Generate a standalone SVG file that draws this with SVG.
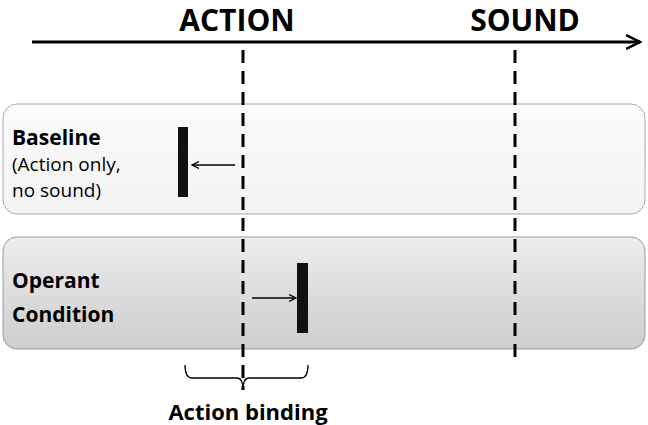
<svg xmlns="http://www.w3.org/2000/svg" width="648" height="425" viewBox="0 0 648 425">
<style>
text{font-family:"Open Sans","Liberation Sans",sans-serif;fill:#000}
.b{font-weight:bold}
.dash{stroke:#000;stroke-width:3;stroke-dasharray:13,8;fill:none}
.thin{stroke:#000;stroke-width:1.3;fill:none}
</style>
<defs>
<linearGradient id="g1" x1="0" y1="0" x2="0" y2="1"><stop offset="0" stop-color="#fbfbfb"/><stop offset="1" stop-color="#f3f3f3"/></linearGradient>
<linearGradient id="g2" x1="0" y1="0" x2="0" y2="1"><stop offset="0" stop-color="#ededed"/><stop offset="1" stop-color="#cdcdcd"/></linearGradient>
<marker id="ah" markerWidth="8" markerHeight="8" refX="7" refY="4" orient="auto" markerUnits="userSpaceOnUse"><path d="M0,0.5 L7,4 L0,7.5" fill="none" stroke="#000" stroke-width="1.2"/></marker>
<marker id="big" markerWidth="16" markerHeight="16" refX="14" refY="8" orient="auto" markerUnits="userSpaceOnUse"><path d="M0,1 L14,8 L0,15" fill="none" stroke="#000" stroke-width="2.5"/></marker>
</defs>
<g id="boxes">
<rect id="baseline" x="3" y="104" width="642" height="110" rx="14" fill="url(#g1)" stroke="#aaa"/>
<rect id="operant" x="3" y="237" width="642" height="112" rx="14" fill="url(#g2)" stroke="#999"/>
</g>
<g id="labels">
<text x="237" y="31" class="b" font-size="30" text-anchor="middle">ACTION</text>
<text x="525" y="31" class="b" font-size="30" text-anchor="middle">SOUND</text>
<text x="12" y="145" class="b" font-size="21">Baseline</text>
<text x="12" y="171" font-size="19">(Action only,</text>
<text x="12" y="197" font-size="19">no sound)</text>
<text x="12" y="288" class="b" font-size="21">Operant</text>
<text x="12" y="322" class="b" font-size="21">Condition</text>
<text x="248" y="420" class="b" font-size="22" text-anchor="middle">Action binding</text>
</g>
<g id="bars">
<rect x="178" y="127" width="10" height="70" fill="#111"/>
<rect x="297" y="263" width="11" height="70" fill="#111"/>
</g>
<g id="connectors">
<line x1="32" y1="42" x2="640" y2="42" stroke="#000" stroke-width="3" marker-end="url(#big)"/>
<line class="dash" x1="243" y1="50" x2="243" y2="390"/>
<line class="dash" x1="515" y1="50" x2="515" y2="365"/>
<line class="thin" x1="235" y1="165" x2="192" y2="165" marker-end="url(#ah)"/>
<line class="thin" x1="252" y1="298" x2="296" y2="298" marker-end="url(#ah)"/>
<path class="thin" d="M185,365 Q185,378 192,378 L237,378 Q243,378 243,390 Q243,378 249,378 L301,378 Q308,378 308,365"/>
</g>
</svg>
